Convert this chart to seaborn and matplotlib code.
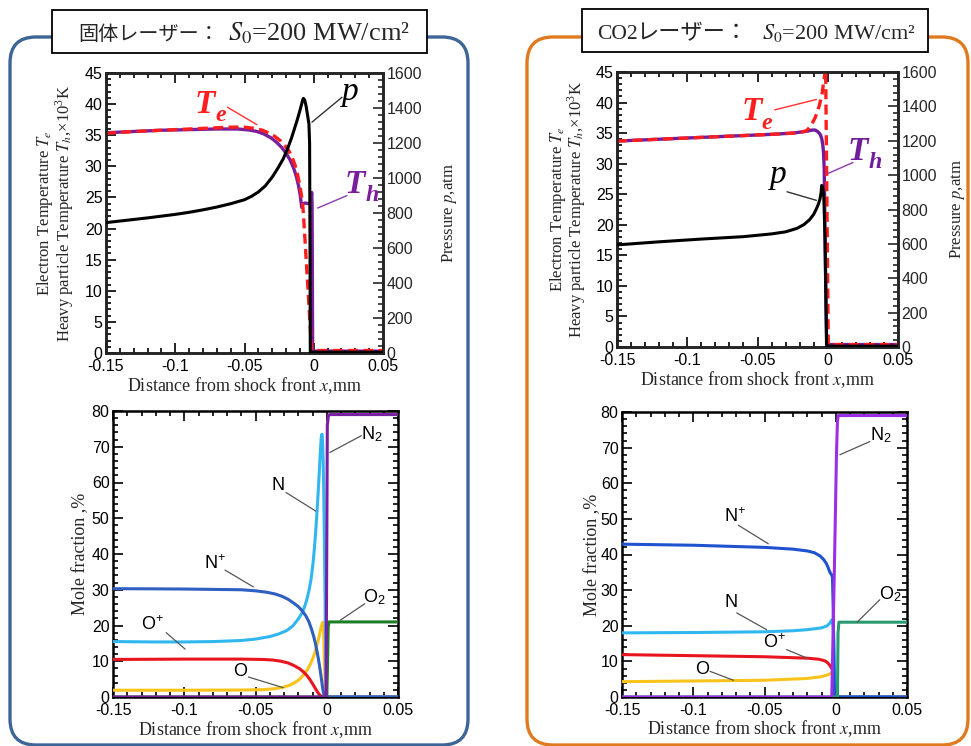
import matplotlib
matplotlib.use("Agg")
import matplotlib.pyplot as plt
import seaborn as sns
from matplotlib.patches import FancyBboxPatch, Rectangle
from matplotlib.ticker import MultipleLocator

# ---------------- data ----------------
x_tick_vals = [-0.15, -0.1, -0.05, 0.0, 0.05]
x_tick_labels = ['-0.15', '-0.1', '-0.05', '0', '0.05']

# Top-left: solid-state laser, temperatures (x10^3 K) and pressure (atm)
xL_te = [-0.15, -0.13, -0.11, -0.09, -0.075, -0.06, -0.05, -0.043, -0.037, -0.032,
         -0.028, -0.024, -0.021, -0.018, -0.0155, -0.0135, -0.0118, -0.0103, -0.009,
         -0.008, -0.0075, -0.0015, 0.0, 0.05]
L_te = [35.3, 35.6, 35.8, 36.0, 36.15, 36.3, 36.3, 36.1, 35.8, 35.3,
        34.8, 34.1, 33.4, 32.5, 31.4, 30.2, 28.8, 27.2, 25.5,
        23.9, 22.5, 0.4, 0.4, 0.4]
xL_th = [-0.15, -0.13, -0.11, -0.09, -0.07, -0.055, -0.047, -0.041, -0.036, -0.031,
         -0.027, -0.023, -0.02, -0.017, -0.0145, -0.0125, -0.011, -0.0098, -0.0087,
         -0.0078, -0.006, -0.004, -0.002, -0.0015, -0.0012, -0.0008, 0.0, 0.05]
L_th = [35.4, 35.6, 35.8, 35.9, 36.0, 36.0, 35.85, 35.6, 35.2, 34.6,
        33.9, 33.0, 32.1, 31.0, 29.7, 28.3, 26.9, 25.4, 23.4,
        24.0, 24.1, 24.0, 24.2, 25.8, 24.0, 0.3, 0.3, 0.3]
xL_p = [-0.15, -0.14, -0.13, -0.12, -0.11, -0.10, -0.09, -0.08, -0.07, -0.06,
        -0.05, -0.045, -0.04, -0.035, -0.03, -0.026, -0.022, -0.019, -0.016, -0.014,
        -0.012, -0.010, -0.009, -0.008, -0.0075, -0.0065, -0.0055, -0.0045, -0.0035,
        -0.003, -0.0027, -0.0025, 0.0, 0.05]
L_p = [745, 754, 763, 772, 782, 792, 804, 818, 834, 853,
       876, 895, 920, 955, 1005, 1055, 1110, 1165, 1230, 1280,
       1330, 1385, 1415, 1445, 1455, 1445, 1410, 1360, 1310,
       1200, 600, 5, 5, 5]

# Top-right: CO2 laser
xR_te = [-0.15, -0.12, -0.09, -0.06, -0.04, -0.025, -0.018, -0.015, -0.012, -0.009,
         -0.006, -0.004, -0.0025, -0.0015, 0.0004, 0.002, 0.05]
R_te = [33.7, 34.0, 34.3, 34.6, 34.8, 35.0, 35.2, 35.4, 36.2, 37.5,
        39.5, 41.5, 44.0, 45.5, 0.4, 0.4, 0.4]
xR_th = [-0.15, -0.12, -0.09, -0.06, -0.04, -0.025, -0.015, -0.011, -0.009, -0.0075,
         -0.006, -0.005, -0.0042, -0.0035, -0.003, -0.0025, -0.002, -0.0012, -0.0008,
         0.0, 0.05]
R_th = [33.7, 34.0, 34.3, 34.6, 34.8, 35.0, 35.3, 35.5, 35.5, 35.3,
        35.0, 34.6, 34.0, 33.0, 31.8, 29.0, 19.7, 6.0, 0.4,
        0.4, 0.4]
xR_p = [-0.15, -0.12, -0.09, -0.06, -0.04, -0.03, -0.022, -0.017, -0.013, -0.01,
        -0.008, -0.0065, -0.0055, -0.0048, -0.0043, -0.0035, -0.0028, -0.002, -0.0008,
        0.0, 0.05]
R_p = [594, 612, 628, 642, 658, 670, 690, 712, 740, 772,
       805, 835, 862, 895, 940, 925, 870, 650, 10,
       5, 5]

# Bottom-left: mole fractions (%) solid-state laser
xL_np = [-0.15, -0.12, -0.1, -0.08, -0.06, -0.05, -0.042, -0.036, -0.031, -0.027,
         -0.023, -0.02, -0.017, -0.0145, -0.0125, -0.0107, -0.0092, -0.0079, -0.0068,
         -0.0058, -0.0049, -0.0041, -0.0034, -0.0028, -0.0022, -0.0016, -0.001, 0.05]
L_np = [30.3, 30.25, 30.2, 30.1, 30.0, 29.7, 29.3, 28.8, 28.1, 27.3,
        26.2, 25.3, 24.0, 22.6, 21.0, 19.0, 17.0, 14.9, 12.7,
        10.5, 8.3, 6.1, 4.0, 2.3, 1.0, 0.3, 0.0, 0.0]
xL_n = [-0.15, -0.12, -0.1, -0.08, -0.06, -0.05, -0.04, -0.034, -0.028, -0.024,
        -0.02, -0.0175, -0.0155, -0.0138, -0.0123, -0.011, -0.0098, -0.0088, -0.008,
        -0.0072, -0.0065, -0.0058, -0.0052, -0.0046, -0.0041, -0.0037, -0.0033, -0.0029,
        -0.0025, -0.0021, -0.0017, -0.0013, -0.001, -0.0006, 0.0, 0.05]
L_n = [15.5, 15.4, 15.4, 15.5, 15.8, 16.2, 16.9, 17.6, 18.6, 19.8,
       21.8, 23.4, 25.3, 27.5, 30.1, 33.0, 36.8, 41.0, 45.0,
       49.5, 54.0, 58.8, 63.3, 67.8, 71.2, 73.2, 73.5, 71.0,
       66.0, 57.0, 45.0, 31.0, 20.0, 6.0, 0.0, 0.0]
xL_op = [-0.15, -0.1, -0.06, -0.045, -0.038, -0.032, -0.027, -0.023, -0.019, -0.016,
         -0.0135, -0.0115, -0.0098, -0.0083, -0.007, -0.0058, -0.0047, -0.0036, -0.0025,
         0.05]
L_op = [10.5, 10.6, 10.6, 10.5, 10.35, 10.0, 9.5, 8.8, 7.9, 6.9,
        5.8, 4.7, 3.6, 2.6, 1.7, 1.0, 0.5, 0.15, 0.0,
        0.0]
xL_o = [-0.15, -0.1, -0.06, -0.045, -0.037, -0.031, -0.026, -0.022, -0.019, -0.016,
        -0.0135, -0.0115, -0.0098, -0.0083, -0.007, -0.0058, -0.0047, -0.0038, -0.0031,
        -0.0026, -0.0021, -0.0016, -0.0011, -0.0006, 0.05]
L_o = [1.9, 1.9, 1.95, 2.05, 2.3, 2.7, 3.3, 4.1, 5.0, 6.3,
       7.7, 9.2, 10.8, 12.5, 14.3, 16.2, 18.2, 19.8, 20.7,
       20.9, 17.0, 9.0, 3.0, 0.0, 0.0]
xL_n2 = [-0.15, -0.0005, 0.0, 0.0004, 0.0012, 0.002, 0.05]
L_n2 = [0.0, 0.0, 40.0, 76.0, 78.8, 79.0, 79.0]
xL_o2 = [-0.15, 0.0, 0.0005, 0.001, 0.0015, 0.05]
L_o2 = [0.0, 0.0, 8.0, 19.5, 21.0, 21.0]

# Bottom-right: mole fractions (%) CO2 laser
xR_np = [-0.15, -0.1, -0.05, -0.03, -0.02, -0.015, -0.011, -0.0085, -0.0068, -0.0055,
         -0.0045, -0.0038, -0.003, -0.0023, -0.0018, -0.0013, -0.0008, 0.05]
R_np = [42.9, 42.6, 42.0, 41.5, 41.0, 40.5, 39.6, 38.6, 37.6, 36.5,
        35.4, 34.8, 34.4, 33.6, 25.0, 10.0, 0.0, 0.0]
xR_n = [-0.15, -0.1, -0.05, -0.03, -0.02, -0.01, -0.006, -0.004, -0.003, -0.0022,
        -0.0015, -0.0008, 0.0, 0.05]
R_n = [18.0, 18.1, 18.3, 18.6, 18.9, 19.4, 20.0, 20.8, 21.5, 21.8,
       18.0, 5.0, 0.0, 0.0]
xR_op = [-0.15, -0.1, -0.05, -0.02, -0.012, -0.008, -0.0062, -0.005, -0.004, -0.003,
         -0.0022, -0.0015, -0.0008, 0.05]
R_op = [11.9, 11.6, 11.3, 10.9, 10.6, 10.2, 9.8, 9.3, 8.8, 8.1,
        7.6, 3.0, 0.0, 0.0]
xR_o = [-0.15, -0.1, -0.05, -0.02, -0.01, -0.005, -0.003, -0.0022, -0.001, 0.0005, 0.05]
R_o = [4.3, 4.5, 4.7, 5.2, 5.7, 6.3, 6.8, 6.6, 4.0, 0.0, 0.0]
xR_n2 = [-0.15, -0.0028, -0.001, 0.0005, 0.0012, 0.0018, 0.05]
R_n2 = [0.0, 0.0, 35.0, 68.0, 77.5, 79.0, 79.0]
xR_o2 = [-0.15, 0.0012, 0.0016, 0.0022, 0.05]
R_o2 = [0.0, 0.0, 18.0, 21.0, 21.0]

# ---------------- style ----------------
sns.set_style("ticks")
plt.rcParams['font.family'] = ['Liberation Sans', 'DejaVu Sans']
plt.rcParams['mathtext.fontset'] = 'stix'
plt.rcParams['axes.unicode_minus'] = False

W, H = 971, 746
fig = plt.figure(figsize=(W / 100, H / 100), dpi=100)
fig.patch.set_facecolor('white')

SERIF = 'Liberation Serif'
CJK = 'Noto Sans CJK JP'
TICK = 11.5


def add_ax(x0, y0, x1, y1):
    return fig.add_axes([x0 / W, 1 - y1 / H, (x1 - x0) / W, (y1 - y0) / H])


def panel(x0, y0, x1, y1, color):
    p = FancyBboxPatch((x0 / 100, (H - y1) / 100), (x1 - x0) / 100, (y1 - y0) / 100,
                       boxstyle="round,pad=0,rounding_size=0.26",
                       transform=fig.dpi_scale_trans, fill=False,
                       edgecolor=color, lw=2.4, zorder=0)
    fig.add_artist(p)


def title_box(x0, y0, x1, y1):
    r = Rectangle((x0 / W, 1 - y1 / H), (x1 - x0) / W, (y1 - y0) / H,
                  transform=fig.transFigure, facecolor='white',
                  edgecolor='black', lw=1.3, zorder=5)
    fig.add_artist(r)


def draw(ax, x, y, color, lw=2.0, dashed=False, z=3):
    sns.lineplot(x=x, y=y, ax=ax, color=color, linewidth=lw, sort=False,
                 estimator=None, legend=False, zorder=z)
    line = ax.lines[-1]
    line.set_solid_joinstyle('round')
    if dashed:
        line.set_linestyle((0, (3.0, 1.6)))


def style(ax, ylim, ymaj, ymin_, right=True):
    ax.set_xlim(-0.15, 0.05)
    ax.set_ylim(*ylim)
    ax.set_xticks(x_tick_vals)
    ax.set_xticklabels(x_tick_labels)
    ax.xaxis.set_minor_locator(MultipleLocator(0.01))
    ax.yaxis.set_major_locator(MultipleLocator(ymaj))
    ax.yaxis.set_minor_locator(MultipleLocator(ymin_))
    ax.tick_params(which='both', direction='in', top=True, right=right,
                   width=1.2, labelsize=TICK, colors='black')
    ax.tick_params(axis='x', pad=4.5)
    ax.tick_params(axis='y', pad=2.5)
    ax.tick_params(which='major', length=7)
    ax.tick_params(which='minor', length=3.5)
    for s in ax.spines.values():
        s.set_linewidth(1.8)
        s.set_color('black')
    ax.set_facecolor('white')


def style_twin(ax):
    ax.set_ylim(0, 1600)
    ax.yaxis.set_major_locator(MultipleLocator(200))
    ax.yaxis.set_minor_locator(MultipleLocator(40))
    ax.tick_params(which='both', direction='in', left=False, right=True,
                   width=1.2, labelsize=TICK, pad=2.5)
    ax.tick_params(which='major', length=7)
    ax.tick_params(which='minor', length=3.5)
    for s in ax.spines.values():
        s.set_linewidth(1.8)


def leader(ax, p0, p1, color='#555555', lw=0.9):
    ax.annotate('', xy=p1, xytext=p0,
                arrowprops=dict(arrowstyle='-', color=color, lw=lw,
                                shrinkA=0, shrinkB=0),
                annotation_clip=False)


def big_label(ax, x, y, main, sub, color, bold=True, size=24):
    w = 'bold' if bold else 'normal'
    ax.text(x, y, main, color=color, family=SERIF, style='italic', weight=w,
            fontsize=size, va='baseline', ha='left', zorder=6)
    if sub:
        ax.annotate(sub, xy=(x, y), xytext=(14.5, -6), textcoords='offset points',
                    color=color, family=SERIF, style='italic', weight=w,
                    fontsize=size * 0.72, va='baseline', ha='left', zorder=6)


def species(ax, x, y, s):
    ax.text(x, y, s, ha='center', va='center', fontsize=13,
            family='Liberation Sans', color='black', zorder=6)


XLABEL = r"Distance from shock front $x$,mm"
YLABEL_T = "Electron Temperature $T_e$\nHeavy particle Temperature $T_h$,×10$^\\mathregular{3}$K"
YLABEL_P = r"Pressure $p$,atm"
YLABEL_M = r"Mole fraction ,%"

# ---------------- panels and titles ----------------
panel(10, 37, 468, 745, '#3d6596')
panel(527, 37, 968, 745, '#e07a1f')
title_box(52, 10, 427, 53)
title_box(582, 9, 928, 52)

fig.text(78 / W, 1 - 40 / H, "固体レーザー：", family=CJK, fontsize=14.5,
         va='baseline', ha='left', zorder=6)
fig.text(228 / W, 1 - 40 / H, r"$S_0$=200 MW/cm²", family=SERIF, fontsize=19,
         va='baseline', ha='left', zorder=6)
fig.text(597 / W, 1 - 39 / H, "CO2", family=SERIF, fontsize=15.5,
         va='baseline', ha='left', zorder=6)
fig.text(636 / W, 1 - 39 / H, "レーザー：", family=CJK, fontsize=16,
         va='baseline', ha='left', zorder=6)
fig.text(762 / W, 1 - 39 / H, r"$S_0$=200 MW/cm²", family=SERIF, fontsize=16,
         va='baseline', ha='left', zorder=6)

k = 1600 / 45

# ---------------- top-left ----------------
ax1 = add_ax(106, 73, 383, 353)
draw(ax1, xL_th, L_th, '#7a1e9c', lw=2.4, z=3)
draw(ax1, xL_te, L_te, '#ff1e1e', lw=2.4, dashed=True, z=4)
style(ax1, (0, 45), 5, 1, right=False)
ax1b = ax1.twinx()
draw(ax1b, xL_p, L_p, 'black', lw=2.2, z=3)
style_twin(ax1b)
ax1.set_xlabel(XLABEL, family=SERIF, fontsize=13)
ax1.xaxis.set_label_coords(0.5, -0.078)
ax1.set_ylabel(YLABEL_T, family=SERIF, fontsize=12, linespacing=0.85)
ax1.yaxis.set_label_coords(-0.11, 0.5)
ax1b.set_ylabel(YLABEL_P, family=SERIF, fontsize=12)
ax1b.yaxis.set_label_coords(1.205, 0.5)

big_label(ax1b, -0.0857, 38.6 * k, 'T', 'e', '#ff1e1e')
big_label(ax1b, 0.0204, 40.7 * k, 'p', None, 'black', bold=False)
big_label(ax1b, 0.0226, 25.7 * k, 'T', 'h', '#7a1e9c')
leader(ax1b, (-0.0623, 39.5 * k), (-0.0411, 36.7 * k), color='#ff3030', lw=1.0)
leader(ax1b, (0.0204, 41.1 * k), (-0.0013, 37.1 * k), color='#333333', lw=1.0)
leader(ax1b, (0.024, 25.3 * k), (0.0028, 23.3 * k), color='#8e3ab0', lw=1.0)

# ---------------- top-right ----------------
ax2 = add_ax(617, 72, 898, 347)
draw(ax2, xR_th, R_th, '#6f1d9b', lw=2.4, z=3)
draw(ax2, xR_te, R_te, '#ff1e1e', lw=2.4, dashed=True, z=4)
style(ax2, (0, 45), 5, 1, right=False)
ax2b = ax2.twinx()
draw(ax2b, xR_p, R_p, 'black', lw=2.2, z=3)
style_twin(ax2b)
ax2.set_xlabel(XLABEL, family=SERIF, fontsize=13)
ax2.xaxis.set_label_coords(0.5, -0.08)
ax2.set_ylabel(YLABEL_T, family=SERIF, fontsize=12, linespacing=0.85)
ax2.yaxis.set_label_coords(-0.104, 0.5)
ax2b.set_ylabel(YLABEL_P, family=SERIF, fontsize=12)
ax2b.yaxis.set_label_coords(1.178, 0.5)

big_label(ax2b, -0.0612, 37.1 * k, 'T', 'e', '#ff1e1e')
big_label(ax2b, 0.0144, 30.6 * k, 'T', 'h', '#6f1d9b')
big_label(ax2b, -0.0411, 26.8 * k, 'p', None, 'black', bold=False)
leader(ax2b, (-0.0378, 38.8 * k), (-0.0081, 40.5 * k), color='#ff3030', lw=1.0)
leader(ax2b, (0.018, 30.2 * k), (0.0002, 28.4 * k), color='#8e3ab0', lw=1.0)
leader(ax2b, (-0.029, 25.4 * k), (-0.0081, 24.0 * k), color='#333333', lw=1.0)

# ---------------- bottom-left ----------------
ax3 = add_ax(113, 411, 398, 697)
draw(ax3, xL_o, L_o, '#f8c41c', lw=2.2)
draw(ax3, xL_op, L_op, '#e8141e', lw=2.2)
draw(ax3, xL_n, L_n, '#31b7ef', lw=2.2)
draw(ax3, xL_np, L_np, '#2e5fc1', lw=2.2)
draw(ax3, xL_o2, L_o2, '#1c7f25', lw=2.2)
draw(ax3, xL_n2, L_n2, '#7b1fa2', lw=2.2)
style(ax3, (0, 80), 10, 2, right=True)
ax3.set_xlabel(XLABEL, family=SERIF, fontsize=13)
ax3.xaxis.set_label_coords(0.5, -0.076)
ax3.set_ylabel(YLABEL_M, family=SERIF, fontsize=13)
ax3.yaxis.set_label_coords(-0.085, 0.5)

species(ax3, 0.0313, 73.6, r"N$_\mathregular{2}$")
species(ax3, -0.034, 59.3, "N")
species(ax3, -0.0784, 37.3, r"N$^\mathregular{+}$")
species(ax3, 0.0337, 27.8, r"O$_\mathregular{2}$")
species(ax3, -0.122, 20.1, r"O$^\mathregular{+}$")
species(ax3, -0.0609, 7.2, "O")
leader(ax3, (0.0243, 73.1), (0.0022, 68.4))
leader(ax3, (-0.0286, 57.2), (-0.0077, 52.0))
leader(ax3, (-0.0714, 35.5), (-0.0515, 30.8))
leader(ax3, (0.0267, 26.1), (0.0096, 21.5))
leader(ax3, (-0.1127, 18.0), (-0.0994, 13.4))
leader(ax3, (-0.055, 5.6), (-0.0305, 2.6))

# ---------------- bottom-right ----------------
ax4 = add_ax(622, 412, 907, 697)
draw(ax4, xR_o, R_o, '#f8c41c', lw=2.2)
draw(ax4, xR_op, R_op, '#e8141e', lw=2.2)
draw(ax4, xR_n, R_n, '#31b7ef', lw=2.2)
draw(ax4, xR_np, R_np, '#1f52cf', lw=2.2)
draw(ax4, xR_o2, R_o2, '#2a9a70', lw=2.2)
draw(ax4, xR_n2, R_n2, '#9b2fe6', lw=2.2)
style(ax4, (0, 80), 10, 2, right=True)
ax4.set_xlabel(XLABEL, family=SERIF, fontsize=13)
ax4.xaxis.set_label_coords(0.5, -0.076)
ax4.set_ylabel(YLABEL_M, family=SERIF, fontsize=13)
ax4.yaxis.set_label_coords(-0.074, 0.5)

species(ax4, 0.032, 73.4, r"N$_\mathregular{2}$")
species(ax4, -0.0707, 50.5, r"N$^\mathregular{+}$")
species(ax4, -0.0735, 26.4, "N")
species(ax4, -0.0433, 15.2, r"O$^\mathregular{+}$")
species(ax4, -0.094, 7.7, "O")
species(ax4, 0.0383, 28.7, r"O$_\mathregular{2}$")
leader(ax4, (0.0239, 71.7), (0.0029, 68.0))
leader(ax4, (-0.0683, 48.2), (-0.0473, 43.0))
leader(ax4, (-0.0695, 23.6), (-0.0485, 18.9))
leader(ax4, (-0.0345, 13.3), (-0.02, 10.9))
leader(ax4, (-0.0882, 7.2), (-0.0718, 4.7))
leader(ax4, (0.0309, 27.3), (0.015, 21.0))

fig.savefig("out.png", dpi=100)
